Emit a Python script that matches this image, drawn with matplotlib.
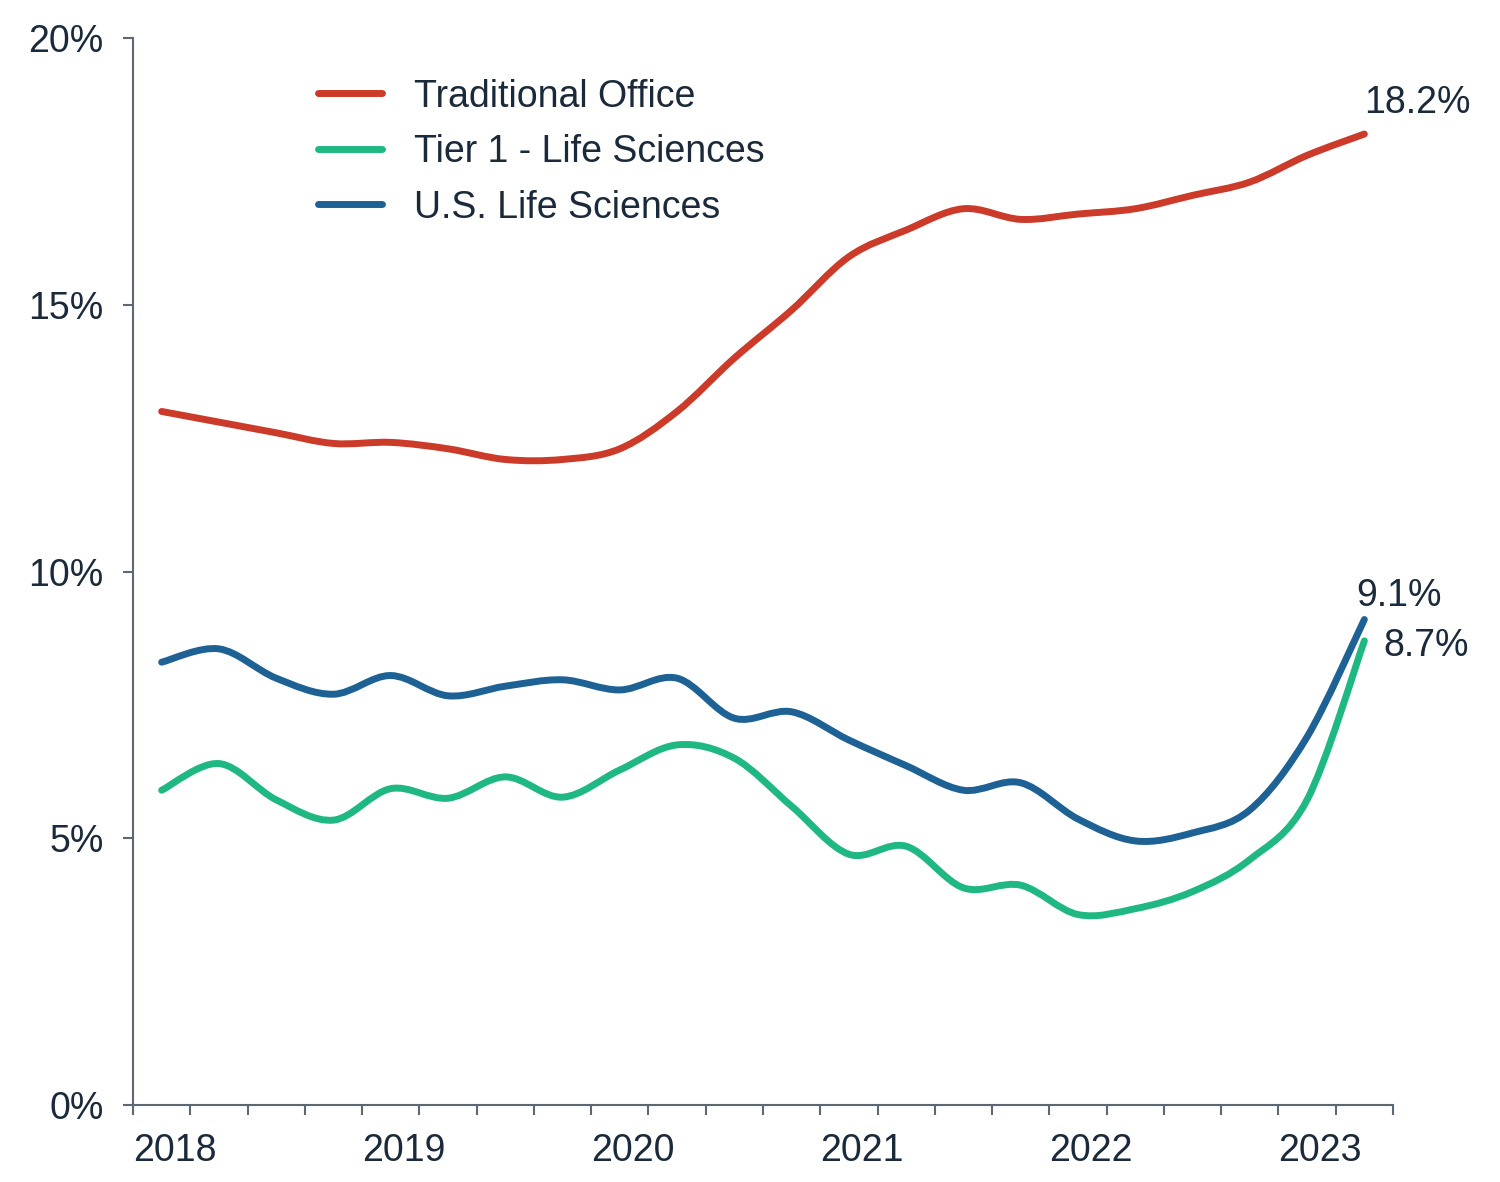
import numpy as np
import matplotlib
matplotlib.use("Agg")
import matplotlib.pyplot as plt
from matplotlib.path import Path
from matplotlib.patches import PathPatch
from matplotlib.lines import Line2D

# quarterly vacancy rates, 2018 Q1 .. 2023 Q2 (%)
quarters = np.arange(22)
year_labels = ["2018", "2019", "2020", "2021", "2022", "2023"]

traditional_office = [13.0, 12.8, 12.6, 12.4, 12.42, 12.3, 12.1, 12.1, 12.3, 13.0, 14.0,
                      14.9, 15.9, 16.4, 16.8, 16.6, 16.7, 16.8, 17.05, 17.3, 17.8, 18.2]
tier1_life_sci = [5.9, 6.4, 5.72, 5.34, 5.93, 5.75, 6.15, 5.77, 6.28, 6.75, 6.5,
                  5.6, 4.7, 4.85, 4.07, 4.12, 3.57, 3.68, 4.0, 4.6, 5.72, 8.7]
us_life_sci = [8.3, 8.55, 8.0, 7.7, 8.05, 7.67, 7.85, 7.97, 7.78, 8.0, 7.25,
               7.37, 6.84, 6.36, 5.9, 6.04, 5.36, 4.95, 5.1, 5.53, 6.9, 9.1]

series = [
    ("Traditional Office", traditional_office, "#cc3a29"),
    ("Tier 1 - Life Sciences", tier1_life_sci, "#1fb882"),
    ("U.S. Life Sciences", us_life_sci, "#1e6195"),
]

TXT = "#1b2a3a"
AX = "#5d6872"
FS = 27
plt.rcParams['font.family'] = ['Liberation Sans', 'DejaVu Sans']


def smooth_path(x, y):
    # catmull-rom through the points, drawn as cubic bezier segments
    p = np.column_stack([x, y]).astype(float)
    ext = np.vstack([p[0], p, p[-1]])
    verts = [p[0]]
    codes = [Path.MOVETO]
    for i in range(len(p) - 1):
        p0, p1, p2, p3 = ext[i], ext[i + 1], ext[i + 2], ext[i + 3]
        verts += [p1 + (p2 - p0) / 6, p2 - (p3 - p1) / 6, p2]
        codes += [Path.CURVE4] * 3
    return Path(verts, codes)


fig = plt.figure(figsize=(15, 11.82), dpi=100)
ax = fig.add_axes([133 / 1500, 1 - 1105 / 1182, 1260 / 1500, 1067 / 1182])

handles = []
for name, vals, col in series:
    ax.add_patch(PathPatch(smooth_path(quarters, vals), fill=False, edgecolor=col,
                           lw=5, capstyle='round', joinstyle='round'))
    handles.append(Line2D([], [], color=col, lw=5, solid_capstyle='round', label=name))

ax.set_xlim(-0.5, 21.5)
ax.set_ylim(0, 20)

edges = np.arange(-0.5, 22, 1)
ax.set_xticks(edges)
ax.set_xticklabels([year_labels[i // 4] if i % 4 == 0 and i // 4 < len(year_labels) else ""
                    for i in range(len(edges))], ha='left')
ax.set_yticks([0, 5, 10, 15, 20])
ax.set_yticklabels(["0%", "5%", "10%", "15%", "20%"])

for s in ["top", "right"]:
    ax.spines[s].set_visible(False)
for s in ["left", "bottom"]:
    ax.spines[s].set_color(AX)
    ax.spines[s].set_linewidth(1.5)
ax.tick_params(axis='x', length=7, width=1.5, color=AX, pad=13, labelsize=FS, labelcolor=TXT)
ax.tick_params(axis='y', length=7, width=1.5, color=AX, pad=14, labelsize=FS, labelcolor=TXT)

leg = ax.legend(handles=handles, loc='upper left', bbox_to_anchor=(0.147, 0.962),
                frameon=False, fontsize=FS, handlelength=1.7, handletextpad=0.85,
                labelspacing=0.52, borderpad=0, borderaxespad=0)
for t in leg.get_texts():
    t.set_color(TXT)

ax.annotate("18.2%", (21, traditional_office[-1]), xytext=(0, 15), textcoords='offset points',
            ha='left', va='baseline', fontsize=FS, color=TXT)
ax.annotate("9.1%", (21, us_life_sci[-1]), xytext=(-6, 10), textcoords='offset points',
            ha='left', va='baseline', fontsize=FS, color=TXT)
ax.annotate("8.7%", (21, tier1_life_sci[-1]), xytext=(14, -11), textcoords='offset points',
            ha='left', va='baseline', fontsize=FS, color=TXT)

fig.savefig("out.png", dpi=100, facecolor='white')
